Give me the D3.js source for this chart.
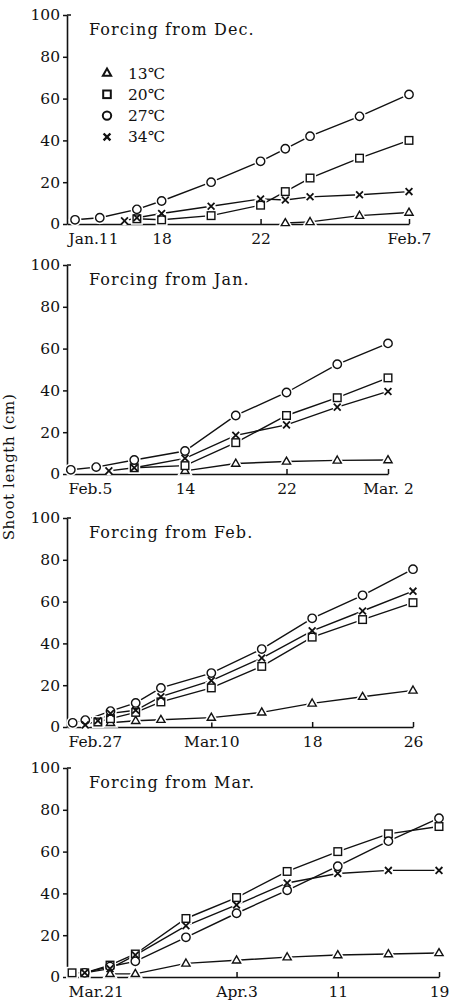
<!DOCTYPE html>
<html>
<head>
<meta charset="utf-8">
<script src="https://cdn.jsdelivr.net/npm/d3@7"></script>
<style>
  html, body { margin: 0; padding: 0; background: #fff; }
  svg { display: block; }
  text { font-family: "DejaVu Serif", "Liberation Serif", serif; fill: #111; }
</style>
</head>
<body>
<svg id="chart" width="457" height="1005"></svg>
<script>
// ---- Data: shoot length (cm) by forcing temperature, [day from first date, length] ----
const tempLabels = ["13℃", "20℃", "27℃", "34℃"];
const yTicks = [0, 20, 40, 60, 80, 100];

// Forcing from Dec. (day 0 = Jan. 11)
const decTickDays = [0, 7, 15, 27];
const decTickLabels = ["Jan.11", "18", "22", "Feb.7"];
const dec13 = [[17, 0.5], [19, 1], [23, 4], [27, 5.5]];
const dec20 = [[5, 2.5], [7, 2], [11, 4], [15, 9], [17, 15.5], [19, 22], [23, 31.5], [27, 40]];
const dec27 = [[0, 2], [2, 3], [5, 7], [7, 11], [11, 20], [15, 30], [17, 36], [19, 42], [23, 51.5], [27, 62]];
const dec34 = [[4, 1.5], [5, 3], [7, 5], [11, 8.5], [15, 12], [17, 11.5], [19, 13], [23, 14], [27, 15.5]];

// Forcing from Jan. (day 0 = Feb. 5)
const janTickDays = [0, 9, 17, 25];
const janTickLabels = ["Feb.5", "14", "22", "Mar. 2"];
const jan13 = [[9, 1.5], [13, 5], [17, 6], [21, 6.5], [25, 6.7]];
const jan20 = [[5, 3], [9, 4], [13, 15], [17, 28], [21, 36.5], [25, 46]];
const jan27 = [[0, 2], [2, 3.3], [5, 6.7], [9, 11], [13, 28], [17, 39], [21, 52.5], [25, 62.5]];
const jan34 = [[3, 1.5], [5, 3], [9, 7.5], [13, 18.5], [17, 23.5], [21, 32], [25, 39.5]];

// Forcing from Feb. (day 0 = Feb. 27)
const febTickDays = [0, 11, 19, 27];
const febTickLabels = ["Feb.27", "Mar.10", "18", "26"];
const feb13 = [[3, 2], [5, 3], [7, 3.5], [11, 4.5], [15, 7], [19, 11.3], [23, 14.5], [27, 17.5]];
const feb20 = [[2, 2.4], [3, 4], [5, 7], [7, 12], [11, 18.7], [15, 29], [19, 43], [23, 51.4], [27, 59.5]];
const feb27 = [[0, 2], [1, 3.3], [3, 7.6], [5, 11.5], [7, 18.7], [11, 25.8], [15, 37.3], [19, 52], [23, 63], [27, 75.5]];
const feb34 = [[1, 1], [2, 3], [3, 6.5], [5, 8], [7, 14.5], [11, 22.2], [15, 33], [19, 46], [23, 55.5], [27, 65]];

// Forcing from Mar. (day 0 = Mar. 21)
const marTickDays = [0, 13, 21, 29];
const marTickLabels = ["Mar.21", "Apr.3", "11", "19"];
const mar13 = [[3, 1.5], [5, 1.5], [9, 6.5], [13, 8], [17, 9.5], [21, 10.5], [25, 11], [29, 11.5]];
const mar20 = [[0, 2], [1, 2], [3, 5.7], [5, 11], [9, 28], [13, 38], [17, 50.5], [21, 60], [25, 68.5], [29, 72]];
const mar27 = [[1, 2], [3, 5], [5, 7.5], [9, 19], [13, 30.5], [17, 41.5], [21, 53], [25, 65], [29, 76]];
const mar34 = [[1, 2], [3, 4], [5, 10.5], [9, 24.5], [13, 34.5], [17, 45], [21, 49.5], [25, 51], [29, 51]];

// ---- Panel layout ----
const plotLeft = 67;
const plotHeight = 209;
const panels = [
  { title: "Forcing from  Dec.", baseline: 224, axisLen: 342, dayStart: -0.65, ticks: decTickDays, labels: decTickLabels, series: [dec13, dec20, dec27, dec34], legend: true },
  { title: "Forcing from  Jan.", baseline: 474, axisLen: 321, dayStart: -0.3, ticks: janTickDays, labels: janTickLabels, series: [jan13, jan20, jan27, jan34] },
  { title: "Forcing from  Feb.", baseline: 727, axisLen: 346, dayStart: -0.45, ticks: febTickDays, labels: febTickLabels, series: [feb13, feb20, feb27, feb34] },
  { title: "Forcing from  Mar.", baseline: 977, axisLen: 372, dayStart: -0.4, ticks: marTickDays, labels: marTickLabels, series: [mar13, mar20, mar27, mar34] }
];

const svg = d3.select("#chart");

// Marker shapes: triangle, square, circle, cross (13, 20, 27, 34 ℃)
function drawMarker(sel, kind, sw, halo) {
  const stroke = halo ? "#fff" : "#111";
  const width = halo ? sw + 3 : sw;
  const fill = "#fff";
  if (kind === 0) {
    const s = 8.2, h = s * Math.sqrt(3) / 2;
    sel.append("path")
      .attr("d", `M0,${-h * 0.62}L${s / 2},${h * 0.38}L${-s / 2},${h * 0.38}Z`)
      .attr("fill", fill).attr("stroke", stroke).attr("stroke-width", width)
      .attr("stroke-linejoin", "miter");
  } else if (kind === 1) {
    sel.append("rect").attr("x", -3.8).attr("y", -3.8).attr("width", 7.6).attr("height", 7.6)
      .attr("fill", fill).attr("stroke", stroke).attr("stroke-width", width);
  } else if (kind === 2) {
    sel.append("circle").attr("r", 4.2)
      .attr("fill", fill).attr("stroke", stroke).attr("stroke-width", width);
  } else {
    if (halo) {
      sel.append("circle").attr("r", 4.6).attr("fill", "#fff");
    } else {
      sel.append("path").attr("d", "M-3.4,-3.4L3.4,3.4M3.4,-3.4L-3.4,3.4")
        .attr("fill", "none").attr("stroke", "#111").attr("stroke-width", sw + 0.4)
        .attr("stroke-linecap", "butt");
    }
  }
}

panels.forEach(p => {
  const g = svg.append("g").attr("transform", `translate(${plotLeft},${p.baseline - plotHeight})`);
  const x = d3.scaleLinear().domain([p.dayStart, p.ticks[p.ticks.length - 1]]).range([0, p.axisLen]);
  const y = d3.scaleLinear().domain([0, 100]).range([plotHeight, 0]);

  // Y axis
  const ya = g.append("g")
    .call(d3.axisLeft(y).tickValues(yTicks).tickSize(4).tickSizeOuter(0).tickPadding(3));
  ya.selectAll("path.domain").attr("stroke", "#111").attr("stroke-width", 1.6);
  ya.selectAll(".tick line").attr("stroke", "#111").attr("stroke-width", 1.5);
  ya.selectAll(".tick text").attr("font-size", 15.5).attr("font-family", "DejaVu Serif, serif").attr("fill", "#111");
  ya.attr("font-family", null);
  // Short stub on the inside at the top of the scale
  g.append("line").attr("x1", 0).attr("x2", 4).attr("y1", y(100)).attr("y2", y(100))
    .attr("stroke", "#111").attr("stroke-width", 1.5);

  // X axis with inward ticks
  const xa = g.append("g").attr("transform", `translate(0,${plotHeight})`)
    .call(d3.axisBottom(x).tickValues(p.ticks).tickFormat((d, i) => p.labels[i])
      .tickSizeInner(-5).tickSizeOuter(0).tickPadding(9));
  xa.selectAll("path.domain").attr("stroke", "#111").attr("stroke-width", 1.6);
  xa.selectAll(".tick line").attr("stroke", "#111").attr("stroke-width", 1.5);
  xa.selectAll(".tick text").attr("font-size", 15.5).attr("font-family", "DejaVu Serif, serif").attr("fill", "#111");
  const first = xa.selectAll(".tick").filter((d, i) => i === 0);
  first.select("line").remove();
  first.select("text").attr("text-anchor", "start").attr("x", -x(p.ticks[0]) + 1);

  // Title
  g.append("text").attr("x", 22).attr("y", 20).attr("font-size", 16)
    .attr("letter-spacing", 1.1).text(p.title);

  const line = d3.line().x(d => x(d[0])).y(d => y(d[1]));

  // Lines first, then white halos, then markers on top
  p.series.forEach(s => {
    g.append("path").datum(s).attr("d", line)
      .attr("fill", "none").attr("stroke", "#111").attr("stroke-width", 1.4);
  });
  p.series.forEach((s, k) => {
    g.selectAll(null).data(s).enter().append("g")
      .attr("transform", d => `translate(${x(d[0])},${y(d[1])})`)
      .each(function () { drawMarker(d3.select(this), k, 1.4, true); });
  });
  p.series.forEach((s, k) => {
    g.selectAll(null).data(s).enter().append("g")
      .attr("transform", d => `translate(${x(d[0])},${y(d[1])})`)
      .each(function () { drawMarker(d3.select(this), k, 1.4, false); });
  });

  // Legend
  if (p.legend) {
    const lg = g.append("g");
    tempLabels.forEach((t, k) => {
      const ry = 73 + k * 21.3 - (p.baseline - plotHeight);
      const m = lg.append("g").attr("transform", `translate(${107 - plotLeft},${ry})`);
      drawMarker(m, k, 2, false);
      lg.append("text").attr("x", 128 - plotLeft).attr("y", ry).attr("dy", "0.36em")
        .attr("font-size", 15.5).text(t);
    });
  }
});

// Shared y-axis title
svg.append("text")
  .attr("transform", "translate(14,467) rotate(-90)")
  .attr("text-anchor", "middle")
  .attr("font-size", 15)
  .attr("letter-spacing", 0.6)
  .text("Shoot length (cm)");
</script>
</body>
</html>
